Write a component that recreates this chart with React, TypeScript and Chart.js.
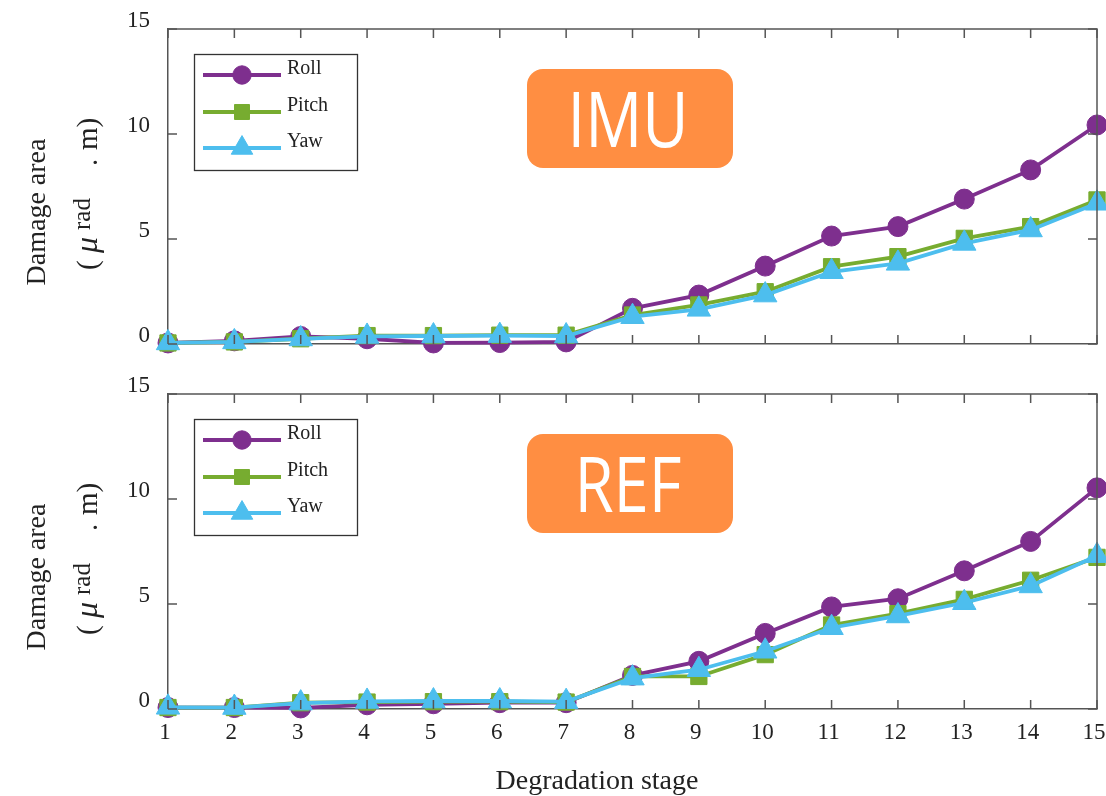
import React, { useEffect, useRef } from 'react';
import { Chart, registerables } from 'chart.js';
import { drawPoint } from 'chart.js/helpers';

Chart.register(...registerables);

// ---------- data ----------
const stages = ['1', '2', '3', '4', '5', '6', '7', '8', '9', '10', '11', '12', '13', '14', '15'];
const seriesNames = ['Roll', 'Pitch', 'Yaw'];

const imuRoll = [0.05, 0.15, 0.36, 0.25, 0.05, 0.07, 0.1, 1.7, 2.33, 3.71, 5.14, 5.59, 6.9, 8.29, 10.43];
const imuPitch = [0.05, 0.1, 0.25, 0.4, 0.4, 0.42, 0.42, 1.38, 1.86, 2.49, 3.68, 4.16, 5.03, 5.59, 6.86];
const imuYaw = [0.05, 0.1, 0.24, 0.36, 0.38, 0.4, 0.38, 1.3, 1.65, 2.33, 3.44, 3.84, 4.79, 5.43, 6.7];

const refRoll = [0.07, 0.07, 0.05, 0.2, 0.25, 0.3, 0.3, 1.6, 2.27, 3.6, 4.86, 5.25, 6.58, 7.98, 10.53];
const refPitch = [0.07, 0.07, 0.3, 0.33, 0.35, 0.35, 0.33, 1.55, 1.55, 2.59, 4.0, 4.54, 5.22, 6.13, 7.22];
const refYaw = [0.08, 0.07, 0.28, 0.36, 0.38, 0.38, 0.35, 1.47, 1.87, 2.75, 3.87, 4.43, 5.06, 5.86, 7.3];

const yMin = 0;
const yMax = 15;
const yStep = 5;

// ---------- styles ----------
const COLORS = ['#7E2F8E', '#77AC30', '#4DBEEE'];
const POINT_STYLES = ['circle', 'rect', 'triangle'];
const POINT_RADII = [10, 11.5, 13.5];
const AXIS = '#555555';
const TEXT = '#222222';
const SERIF = '"Liberation Serif", "Times New Roman", serif';
const ORANGE = '#FF8E42';

const decoPlugin = {
  id: 'deco',
  afterDatasetsDraw(chart: any) {
    const ctx: CanvasRenderingContext2D = chart.ctx;
    const { left, right, top, bottom } = chart.chartArea;
    const xs = chart.scales.x;
    const ys = chart.scales.y;
    ctx.save();
    ctx.strokeStyle = AXIS;
    ctx.lineWidth = 1.5;
    ctx.beginPath();
    ctx.moveTo(left, top);
    ctx.lineTo(right, top);
    ctx.lineTo(right, bottom);
    ctx.stroke();
    const TL = 9;
    ctx.beginPath();
    xs.ticks.forEach((_t: any, i: number) => {
      const x = xs.getPixelForTick(i);
      ctx.moveTo(x, bottom);
      ctx.lineTo(x, bottom - TL);
      ctx.moveTo(x, top);
      ctx.lineTo(x, top + TL);
    });
    ys.ticks.forEach((_t: any, i: number) => {
      const y = ys.getPixelForTick(i);
      ctx.moveTo(left, y);
      ctx.lineTo(left + TL, y);
      ctx.moveTo(right, y);
      ctx.lineTo(right - TL, y);
    });
    ctx.stroke();
    ctx.restore();
  },
  afterDraw(chart: any, _args: any, opts: any) {
    const ctx: CanvasRenderingContext2D = chart.ctx;
    const { left, top } = chart.chartArea;
    ctx.save();

    // legend
    const lx = left + 26;
    const ly = top + 25;
    ctx.fillStyle = '#ffffff';
    ctx.fillRect(lx, ly, 163, 116);
    ctx.strokeStyle = '#333333';
    ctx.lineWidth = 1.3;
    ctx.strokeRect(lx + 0.5, ly + 0.5, 163, 116);
    const rowY = [top + 46, top + 83, top + 119];
    chart.data.datasets.forEach((ds: any, i: number) => {
      const y = rowY[i];
      ctx.strokeStyle = ds.borderColor;
      ctx.lineWidth = ds.borderWidth;
      ctx.beginPath();
      ctx.moveTo(lx + 9, y);
      ctx.lineTo(lx + 87, y);
      ctx.stroke();
      ctx.fillStyle = ds.pointBackgroundColor;
      ctx.strokeStyle = ds.pointBorderColor;
      ctx.lineWidth = 1;
      drawPoint(ctx, { pointStyle: ds.pointStyle, radius: ds.pointRadius * 0.92, rotation: 0, borderWidth: 1 } as any, lx + 48, y);
      ctx.fillStyle = TEXT;
      ctx.font = '20px ' + SERIF;
      ctx.textAlign = 'left';
      ctx.textBaseline = 'alphabetic';
      ctx.fillText(ds.label, lx + 93, y - 1.5);
    });

    // orange label
    const bx = 527, by = top + 40, bw = 206, bh = 99, r = 16;
    ctx.fillStyle = ORANGE;
    ctx.beginPath();
    ctx.moveTo(bx + r, by);
    ctx.arcTo(bx + bw, by, bx + bw, by + bh, r);
    ctx.arcTo(bx + bw, by + bh, bx, by + bh, r);
    ctx.arcTo(bx, by + bh, bx, by, r);
    ctx.arcTo(bx, by, bx + bw, by, r);
    ctx.closePath();
    ctx.fill();
    ctx.font = '400 76px "Open Sans", "DejaVu Sans", sans-serif';
    const sx = 121 / ctx.measureText('IMU').width;
    ctx.fillStyle = '#ffffff';
    ctx.textAlign = 'center';
    ctx.textBaseline = 'alphabetic';
    ctx.translate(628, top + 118);
    ctx.scale(sx, 1);
    ctx.fillText(opts.tag, 0, 0);
    ctx.setTransform(1, 0, 0, 1, 0, 0);

    // y title line 1
    ctx.fillStyle = TEXT;
    ctx.save();
    ctx.translate(45, top + 183);
    ctx.rotate(-Math.PI / 2);
    ctx.font = '28px ' + SERIF;
    ctx.textAlign = 'center';
    ctx.fillText('Damage area', 0, 0);
    ctx.restore();

    // y title line 2: ( μ^rad . m)
    ctx.save();
    ctx.translate(97, top + 241);
    ctx.rotate(-Math.PI / 2);
    ctx.textAlign = 'left';
    ctx.font = '29px ' + SERIF;
    ctx.fillText('(', 0, 0);
    ctx.font = 'italic 32px ' + SERIF;
    ctx.fillText('\u03BC', 17, 0);
    ctx.font = '25px ' + SERIF;
    ctx.fillText('rad', 40, -7);
    ctx.font = '29px ' + SERIF;
    ctx.fillText('.', 104, 0);
    ctx.fillText('m)', 120, 0);
    ctx.restore();

    // x title
    if (opts.xTitle) {
      ctx.font = '28px ' + SERIF;
      ctx.textAlign = 'center';
      ctx.fillStyle = TEXT;
      ctx.fillText(opts.xTitle, 597, chart.chartArea.bottom + 80);
    }
    ctx.restore();
  },
};

function makeDatasets(values: number[][]) {
  return values.map((v, i) => ({
    label: seriesNames[i],
    data: v,
    borderColor: COLORS[i],
    backgroundColor: COLORS[i],
    pointBackgroundColor: COLORS[i],
    pointBorderColor: COLORS[i],
    pointBorderWidth: 1,
    pointStyle: POINT_STYLES[i],
    pointRadius: POINT_RADII[i],
    borderWidth: 3.8,
    tension: 0,
    clip: false as any,
    order: 3 - i,
  }));
}

function Panel({ topPx, heightPx, values, tag, showX }: { topPx: number; heightPx: number; values: number[][]; tag: string; showX: boolean }) {
  const ref = useRef<HTMLCanvasElement>(null);
  useEffect(() => {
    if (!ref.current) return;
    const areaBottom = 344;
    const chart = new Chart(ref.current, {
      type: 'line',
      data: { labels: stages, datasets: makeDatasets(values) as any },
      options: {
        animation: false,
        responsive: false,
        maintainAspectRatio: false,
        layout: { autoPadding: false, padding: { top: 29, left: 0, right: 9, bottom: 0 } },
        plugins: {
          legend: { display: false },
          tooltip: { enabled: false },
          deco: { tag, xTitle: showX ? 'Degradation stage' : '' },
        } as any,
        scales: {
          x: {
            type: 'category',
            offset: false,
            grid: { display: false, drawTicks: false, offset: false },
            border: { display: true, color: AXIS, width: 1.5 },
            ticks: {
              display: showX,
              autoSkip: false,
              maxRotation: 0,
              padding: 10,
              labelOffset: -3,
              color: TEXT,
              font: { family: SERIF, size: 23 },
            },
            afterFit: (s: any) => {
              s.height = heightPx - areaBottom;
              s.paddingLeft = 0;
              s.paddingRight = 0;
            },
          },
          y: {
            type: 'linear',
            min: yMin,
            max: yMax,
            grid: { display: false, drawTicks: false },
            border: { display: true, color: AXIS, width: 1.5 },
            ticks: {
              stepSize: yStep,
              padding: 18,
              labelOffset: -8,
              color: TEXT,
              font: { family: SERIF, size: 23 },
            },
            afterFit: (s: any) => {
              s.width = 168;
              s.paddingTop = 0;
              s.paddingBottom = 0;
            },
          },
        },
      },
      plugins: [decoPlugin as any],
    });
    return () => chart.destroy();
  }, []);
  return (
    <canvas
      ref={ref}
      width={1106}
      height={heightPx}
      style={{ position: 'absolute', left: 0, top: topPx, width: 1106, height: heightPx, display: 'block' }}
    />
  );
}

export default function App() {
  return (
    <div style={{ position: 'absolute', left: 0, top: 0, width: 1106, height: 796, background: '#ffffff', overflow: 'hidden' }}>
      <Panel topPx={0} heightPx={365} values={[imuRoll, imuPitch, imuYaw]} tag="IMU" showX={false} />
      <Panel topPx={365} heightPx={431} values={[refRoll, refPitch, refYaw]} tag="REF" showX={true} />
    </div>
  );
}
